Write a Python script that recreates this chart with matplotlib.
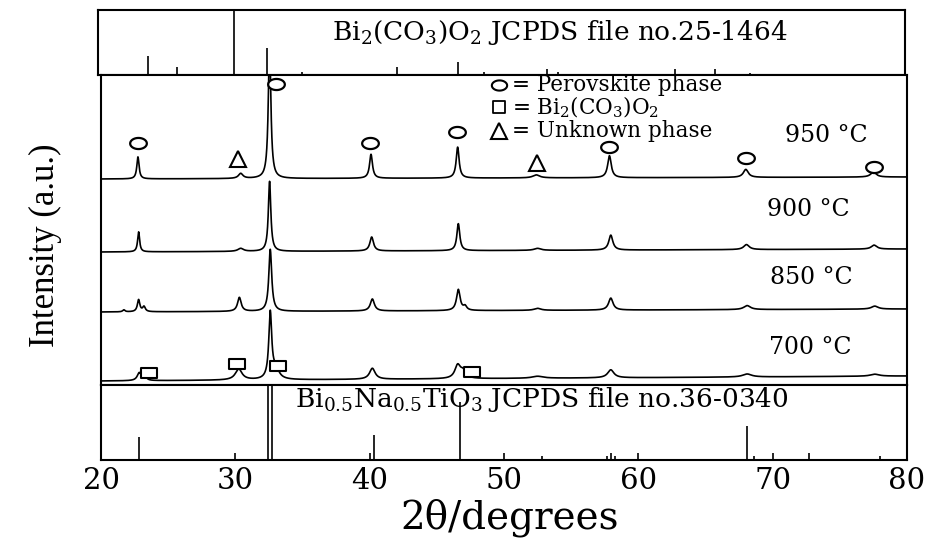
import numpy as np
import matplotlib
matplotlib.use("Agg")
import matplotlib.pyplot as plt
from matplotlib.path import Path

plt.rcParams['mathtext.fontset'] = 'dejavuserif'
SERIF = 'DejaVu Serif'

# ---------------- data ----------------
# Reference stick pattern: Bi2(CO3)O2 JCPDS 25-1464 (relative heights)
top_pos = [23.7, 25.9, 30.1, 32.6, 35.2, 42.2, 46.8, 48.7, 53.4, 54.2, 62.9, 65.9, 68.5]
top_h   = [0.29, 0.12, 1.00, 0.42, 0.05, 0.12, 0.20, 0.04, 0.10, 0.05, 0.10, 0.10, 0.03]

# Reference stick pattern: Bi0.5Na0.5TiO3 JCPDS 36-0340
bnt_pos = [22.8, 32.45, 32.7, 40.3, 46.7, 52.8, 57.7, 58.0, 58.3, 68.1, 68.6, 72.7, 78.0]
bnt_h   = [0.31, 1.00, 1.00, 0.34, 0.78, 0.05, 0.06, 0.10, 0.05, 0.45, 0.05, 0.10, 0.06]

# Measured patterns: peak position, height, half width; baseline (left, right)
temps = ['950 °C', '900 °C', '850 °C', '700 °C']
base_left  = [206, 133, 73, 4]
base_right = [208, 136, 76, 9]

p950_pos = [22.75, 30.4, 32.55, 40.1, 46.55, 52.4, 57.85, 68.0, 77.5]
p950_h   = [22, 5, 140, 24, 31, 3, 22, 8, 5]
p950_w   = [0.10, 0.20, 0.11, 0.13, 0.13, 0.30, 0.16, 0.22, 0.25]

p900_pos = [22.8, 30.4, 32.55, 40.15, 46.6, 52.5, 57.95, 68.05, 77.55]
p900_h   = [20, 3, 70, 14, 27, 2, 15, 5, 4]
p900_w   = [0.09, 0.25, 0.11, 0.16, 0.13, 0.30, 0.18, 0.25, 0.25]

p850_pos = [21.7, 22.8, 23.2, 30.3, 32.6, 40.2, 46.6, 47.1, 52.5, 57.95, 68.1, 77.6]
p850_h   = [2, 12, 5, 14, 62, 12, 21, 4, 2, 12, 4, 3]
p850_w   = [0.10, 0.11, 0.12, 0.16, 0.13, 0.18, 0.16, 0.15, 0.30, 0.20, 0.30, 0.30]

p700_pos = [22.85, 23.3, 30.25, 32.6, 33.0, 40.2, 46.55, 46.95, 52.5, 57.95, 68.1, 77.6]
p700_h   = [8, 3, 11, 66, 10, 11, 13, 7, 2, 8, 3, 2]
p700_w   = [0.18, 0.15, 0.30, 0.13, 0.30, 0.25, 0.25, 0.25, 0.50, 0.28, 0.40, 0.40]

# Phase markers
perov_x = [22.75, 33.0, 40.05, 46.5, 57.85, 68.05, 77.55]
perov_y = [242, 301, 242, 253, 238, 227, 218]
unk_x = [30.2, 52.45]
unk_y = [226, 222]
bco_x = [23.6, 30.15, 33.2, 47.6]
bco_y = [12, 21, 19, 13]

legend_labels = ['= Perovskite phase', r'= Bi$_2$(CO$_3$)O$_2$', '= Unknown phase']
legend_y = [300, 278, 254]
label_y = [250, 175, 107, 37]
label_x = [70.9, 69.6, 69.8, 69.7]

top_title = r'Bi$_2$(CO$_3$)O$_2$ JCPDS file no.25-1464'
bot_title = r'Bi$_{0.5}$Na$_{0.5}$TiO$_3$ JCPDS file no.36-0340'
xticks = [20, 30, 40, 50, 60, 70, 80]

# ---------------- figure ----------------
W, H = 935, 546
fig = plt.figure(figsize=(W / 100, H / 100), dpi=100)

def ax_rect(x0, y0, x1, y1):
    return [x0 / W, 1 - y1 / H, (x1 - x0) / W, (y1 - y0) / H]

ax_top = fig.add_axes(ax_rect(98, 10, 905, 75))
ax_mid = fig.add_axes(ax_rect(101, 75, 907, 385))
ax_bot = fig.add_axes(ax_rect(101, 385, 907, 460))

for ax in (ax_top, ax_mid, ax_bot):
    ax.set_xlim(20, 80)
    for s in ax.spines.values():
        s.set_linewidth(1.5)
        s.set_color('black')
    ax.set_yticks([])

# top sticks
ax_top.set_ylim(0, 1)
ax_top.vlines(top_pos, 0, top_h, color='black', lw=1.2)
ax_top.set_xticks([])
ax_top.text((332 - 98) / (905 - 98), 0.66, top_title, transform=ax_top.transAxes,
            ha='left', va='center', family=SERIF, fontsize=19)

# bottom sticks
ax_bot.set_ylim(0, 1)
ax_bot.vlines(bnt_pos, 0, bnt_h, color='black', lw=1.2)
ax_bot.set_xticks(xticks)
ax_bot.set_xticklabels([str(t) for t in xticks], family=SERIF, fontsize=21)
ax_bot.tick_params(axis='x', direction='in', length=5, width=1.2, pad=5)
ax_bot.text((295 - 101) / (907 - 101), 0.80, bot_title, transform=ax_bot.transAxes,
            ha='left', va='center', family=SERIF, fontsize=19)

# middle patterns
x = np.linspace(20, 80, 6001)
ax_mid.set_ylim(0, 310)
ax_mid.set_xticks([])
peak_sets = [(p950_pos, p950_h, p950_w), (p900_pos, p900_h, p900_w),
             (p850_pos, p850_h, p850_w), (p700_pos, p700_h, p700_w)]
for i, (pos, hh, ww) in enumerate(peak_sets):
    y = base_left[i] + (base_right[i] - base_left[i]) * (x - 20) / 60
    for p, h, w in zip(pos, hh, ww):
        y = y + h / (1 + ((x - p) / w) ** 2)
    ax_mid.plot(x, y, color='black', lw=1.2, clip_on=True)
    ax_mid.text(label_x[i], label_y[i], temps[i], family=SERIF, fontsize=17,
                ha='left', va='center')

ell = np.linspace(0, 2 * np.pi, 60)
ellipse = Path(np.column_stack([1.5 * np.cos(ell), np.sin(ell)]), closed=True)
rect = Path([(-1.7, -1), (1.7, -1), (1.7, 1), (-1.7, 1), (-1.7, -1)], closed=True)
sq = Path([(-1.1, -1), (1.1, -1), (1.1, 1), (-1.1, 1), (-1.1, -1)], closed=True)

ax_mid.plot(perov_x, perov_y, ls='none', marker=ellipse, ms=12, mfc='white',
            mec='black', mew=1.6, clip_on=False)
ax_mid.plot(unk_x, unk_y, ls='none', marker='^', ms=11, mfc='white',
            mec='black', mew=1.5)
ax_mid.plot(bco_x, bco_y, ls='none', marker=rect, ms=12, mfc='white',
            mec='black', mew=1.5)

# legend
lx = 49.6
ax_mid.plot([lx], [legend_y[0]], ls='none', marker=ellipse, ms=11, mfc='white', mec='black', mew=1.5)
ax_mid.plot([lx], [legend_y[1]], ls='none', marker=sq, ms=9, mfc='white', mec='black', mew=1.3)
ax_mid.plot([lx], [legend_y[2]], ls='none', marker='^', ms=11, mfc='white', mec='black', mew=1.5)
for lab, ly in zip(legend_labels, legend_y):
    ax_mid.text(50.6, ly, lab, family=SERIF, fontsize=15.5, ha='left', va='center')

# axis labels
fig.text(45 / W, 1 - 245 / H, 'Intensity (a.u.)', rotation=90, ha='center', va='center',
         family='Liberation Serif', fontsize=25)
fig.text(510 / W, 1 - 518 / H, '2θ/degrees', ha='center', va='center',
         family=SERIF, fontsize=28)

fig.savefig('out.png', dpi=100)
